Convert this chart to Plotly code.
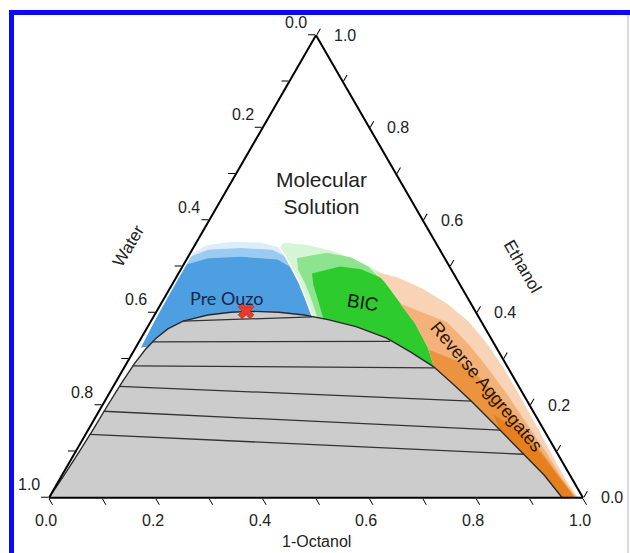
import math
import plotly.graph_objects as go

FONT = "Liberation Sans, Arial, sans-serif"

# ---------------- data: mole fractions (ethanol, 1-octanol; water = balance) ----------------
# Binodal (two-phase boundary), from the water corner round to the octanol side
binodal_ethanol = [0.000, 0.050, 0.100, 0.150, 0.200, 0.250, 0.290, 0.320, 0.345, 0.365, 0.382,
                   0.395, 0.401, 0.403, 0.401, 0.395, 0.385, 0.370, 0.345, 0.315, 0.283, 0.245,
                   0.209, 0.146, 0.094, 0.048, 0.000]
binodal_octanol = [0.000, 0.004, 0.007, 0.009, 0.010, 0.012, 0.015, 0.020, 0.028, 0.040, 0.060,
                   0.100, 0.140, 0.180, 0.230, 0.280, 0.330, 0.390, 0.460, 0.520, 0.579, 0.635,
                   0.686, 0.772, 0.842, 0.904, 0.961]

# Tie lines: water-rich end -> octanol-rich end
tie_ethanol_water_side = [0.382, 0.337, 0.285, 0.241, 0.187, 0.137]
tie_octanol_water_side = [0.060, 0.025, 0.014, 0.011, 0.009, 0.008]
tie_ethanol_oil_side = [0.391, 0.338, 0.281, 0.209, 0.146, 0.094]
tie_octanol_oil_side = [0.297, 0.470, 0.582, 0.686, 0.772, 0.842]

# Pre-Ouzo composition (red cross)
marker_ethanol = [0.404]
marker_octanol = [0.167]

# Pre-Ouzo region (light -> mid -> strong blue)
preouzo_outer_ethanol = [0.3935, 0.4326, 0.4652, 0.4978, 0.5217, 0.5413, 0.552, 0.553, 0.546, 0.528,
                         0.480, 0.420, 0.360, 0.325, 0.360]
preouzo_outer_octanol = [0.296, 0.2637, 0.236, 0.205, 0.182, 0.161, 0.120, 0.064, 0.021, 0.005,
                         0.005, 0.006, 0.008, 0.010, 0.200]
preouzo_mid_ethanol = [0.3935, 0.4326, 0.4652, 0.4978, 0.5217, 0.536, 0.540, 0.536, 0.522,
                       0.480, 0.420, 0.360, 0.325, 0.360]
preouzo_mid_octanol = [0.296, 0.2637, 0.236, 0.205, 0.182, 0.150, 0.090, 0.030, 0.006,
                       0.005, 0.006, 0.008, 0.010, 0.200]
preouzo_core_ethanol = [0.3935, 0.4326, 0.4652, 0.4978, 0.515, 0.521, 0.518, 0.505,
                        0.440, 0.380, 0.325, 0.360]
preouzo_core_octanol = [0.296, 0.2637, 0.236, 0.205, 0.170, 0.100, 0.040, 0.006,
                        0.006, 0.007, 0.010, 0.200]

# BIC region (light -> mid -> strong green)
bic_outer_ethanol = [0.3935, 0.4326, 0.4652, 0.4978, 0.5217, 0.5413, 0.552, 0.5457, 0.533, 0.511,
                     0.492, 0.460, 0.400, 0.330, 0.270, 0.300]
bic_outer_octanol = [0.296, 0.2637, 0.236, 0.205, 0.182, 0.161, 0.165, 0.214, 0.267, 0.324,
                     0.368, 0.420, 0.490, 0.560, 0.610, 0.400]
bic_mid_ethanol = [0.392, 0.430, 0.462, 0.493, 0.518, 0.530, 0.520, 0.500, 0.480, 0.460, 0.400,
                   0.330, 0.270, 0.300]
bic_mid_octanol = [0.306, 0.276, 0.249, 0.220, 0.205, 0.255, 0.305, 0.348, 0.375, 0.420, 0.490,
                   0.560, 0.610, 0.400]
bic_core_ethanol = [0.390, 0.430, 0.460, 0.485, 0.500, 0.494, 0.478, 0.460, 0.400, 0.330, 0.270, 0.300]
bic_core_octanol = [0.318, 0.288, 0.265, 0.250, 0.295, 0.338, 0.378, 0.420, 0.490, 0.560, 0.610, 0.400]

# Boundary between Pre-Ouzo and BIC (white seam)
seam_ethanol = [0.3935, 0.4326, 0.4652, 0.4978, 0.5217, 0.5413, 0.552]
seam_octanol = [0.296, 0.2637, 0.236, 0.205, 0.182, 0.161, 0.158]

# Reverse aggregates region (peach -> orange)
reverse_outer_ethanol = [0.489, 0.465, 0.428, 0.378, 0.326, 0.285, 0.000, 0.000, 0.037, 0.0913,
                         0.1565, 0.2217, 0.2804, 0.3348, 0.3804, 0.4196, 0.4522, 0.4761]
reverse_outer_octanol = [0.366, 0.397, 0.439, 0.496, 0.546, 0.578, 0.930, 0.991, 0.950, 0.897,
                         0.834, 0.770, 0.711, 0.652, 0.596, 0.536, 0.473, 0.415]
reverse_mid_ethanol = [0.420, 0.378, 0.326, 0.285, 0.000, 0.000, 0.040, 0.100, 0.160, 0.220,
                       0.280, 0.330, 0.380]
reverse_mid_octanol = [0.447, 0.496, 0.546, 0.578, 0.930, 0.988, 0.942, 0.880, 0.815, 0.750,
                       0.682, 0.622, 0.555]
reverse_core_ethanol = [0.320, 0.285, 0.000, 0.000, 0.050, 0.100, 0.150, 0.200, 0.250, 0.290]
reverse_core_octanol = [0.551, 0.578, 0.930, 0.986, 0.928, 0.872, 0.813, 0.755, 0.690, 0.632]
reverse_deep_ethanol = [0.180, 0.146, 0.000, 0.000, 0.040, 0.090, 0.140]
reverse_deep_octanol = [0.742, 0.772, 0.930, 0.984, 0.938, 0.880, 0.815]

# Axis ticks
tick_values = [0.0, 0.1, 0.2, 0.3, 0.4, 0.5, 0.6, 0.7, 0.8, 0.9, 1.0]
label_values = [0.0, 0.2, 0.4, 0.6, 0.8, 1.0]
label_texts = ["0.0", "0.2", "0.4", "0.6", "0.8", "1.0"]

# ---------------- layout geometry ----------------
W_FIG, H_FIG = 630, 553
M_L, M_R, M_T, M_B = 49, 47, 35, 55
PW, PH = W_FIG - M_L - M_R, H_FIG - M_T - M_B
TRI_W = min(PW, PH * 2 / math.sqrt(3))
TRI_H = TRI_W * math.sqrt(3) / 2
OFF_X = (PW - TRI_W) / 2 / PW
OFF_Y = (PH - TRI_H) / 2 / PH


def ternary_to_paper(a, c):
    """Position (paper coords) of a ternary composition, matching plotly's ternary subplot."""
    x = OFF_X + (c + a / 2) * TRI_W / PW
    y = OFF_Y + a * TRI_H / PH
    return x, y


# ---------------- figure ----------------
fig = go.Figure()


def region(eth, octa, color):
    fig.add_trace(go.Scatterternary(
        a=eth, c=octa, mode="lines", fill="toself", fillcolor=color,
        line=dict(width=0, color=color), hoverinfo="skip", showlegend=False))


region(preouzo_outer_ethanol, preouzo_outer_octanol, "#dcecfa")
region(preouzo_mid_ethanol, preouzo_mid_octanol, "#9ccbf1")
region(preouzo_core_ethanol, preouzo_core_octanol, "#4d9fe1")

region(bic_outer_ethanol, bic_outer_octanol, "#d6f4d6")
region(bic_mid_ethanol, bic_mid_octanol, "#8ee48e")
region(bic_core_ethanol, bic_core_octanol, "#2ecb2e")

fig.add_trace(go.Scatterternary(
    a=seam_ethanol, c=seam_octanol, mode="lines",
    line=dict(width=1.6, color="white"), hoverinfo="skip", showlegend=False))

region(reverse_outer_ethanol, reverse_outer_octanol, "#f9d3b5")
region(reverse_mid_ethanol, reverse_mid_octanol, "#f4b27a")
region(reverse_core_ethanol, reverse_core_octanol, "#ec933f")
region(reverse_deep_ethanol, reverse_deep_octanol, "#e5801f")

# two-phase region
fig.add_trace(go.Scatterternary(
    a=binodal_ethanol, c=binodal_octanol, mode="lines", fill="toself",
    fillcolor="#cccccc", line=dict(width=0, color="#cccccc"),
    hoverinfo="skip", showlegend=False))

for i in range(len(tie_ethanol_water_side)):
    fig.add_trace(go.Scatterternary(
        a=[tie_ethanol_water_side[i], tie_ethanol_oil_side[i]],
        c=[tie_octanol_water_side[i], tie_octanol_oil_side[i]],
        mode="lines", line=dict(width=1.3, color="#333333"),
        hoverinfo="skip", showlegend=False))

fig.add_trace(go.Scatterternary(
    a=binodal_ethanol, c=binodal_octanol, mode="lines",
    line=dict(width=1.4, color="#2a2a2a"), hoverinfo="skip", showlegend=False))

fig.add_trace(go.Scatterternary(
    a=marker_ethanol, c=marker_octanol, mode="markers",
    marker=dict(symbol="x", size=14, color="#e63b2a", line=dict(width=0.6, color="#b5261a")),
    hoverinfo="skip", showlegend=False))

axis_common = dict(
    tickmode="array", tickvals=tick_values,
    ticks="outside", ticklen=7, tickwidth=1.4, tickcolor="black",
    linecolor="black", linewidth=2, showgrid=False, showticklabels=False,
    title=dict(text=""),
)

fig.update_layout(
    width=W_FIG, height=H_FIG,
    margin=dict(l=M_L, r=M_R, t=M_T, b=M_B),
    paper_bgcolor="white",
    ternary=dict(
        sum=1, bgcolor="white",
        aaxis=axis_common, baxis=axis_common, caxis=axis_common,
    ),
    showlegend=False,
)

ann = dict(xref="paper", yref="paper", showarrow=False, xanchor="center", yanchor="middle")
tick_font = dict(family=FONT, size=16, color="#222222")

# tick labels, read clockwise along each edge
for v, t in zip(label_values, label_texts):
    # Water along the left edge (0 at the top, 1 at bottom-left)
    x, y = ternary_to_paper(1 - v, 0.0)
    fig.add_annotation(text=t, x=x, y=y, xshift=-20, yshift=13, font=tick_font, **ann)
    # Ethanol along the right edge (0 at bottom-right, 1 at the top)
    x, y = ternary_to_paper(v, 1 - v)
    fig.add_annotation(text=t, x=x, y=y, xshift=29, yshift=0, font=tick_font, **ann)
    # 1-Octanol along the bottom edge (0 at left, 1 at right)
    x, y = ternary_to_paper(0.0, v)
    fig.add_annotation(text=t, x=x, y=y, xshift=-3, yshift=-23, font=tick_font, **ann)

fig.add_annotation(text="Molecular<br>Solution", x=0.511, y=0.659,
                   font=dict(family=FONT, size=21, color="#222222"), **ann)
fig.add_annotation(text="Pre Ouzo", x=0.333, y=0.432,
                   font=dict(family="Lato, Open Sans, sans-serif", size=18, color="#17264c"), **ann)
fig.add_annotation(text="BIC", x=0.588, y=0.423, textangle=9,
                   font=dict(family=FONT, size=19, color="#151515"), **ann)
fig.add_annotation(text="Reverse Aggregates", x=0.820, y=0.240, textangle=50,
                   font=dict(family=FONT, size=18, color="#2a1608"), **ann)
fig.add_annotation(text="Water", x=0.148, y=0.544, textangle=-59,
                   font=dict(family=FONT, size=17, color="#222222"), **ann)
fig.add_annotation(text="Ethanol", x=0.886, y=0.499, textangle=60,
                   font=dict(family=FONT, size=17, color="#222222"), **ann)
fig.add_annotation(text="1-Octanol", x=0.5, y=-0.094,
                   font=dict(family=FONT, size=16, color="#222222"), **ann)

# blue frame of the original figure panel
fig.add_shape(type="rect", xref="paper", yref="paper", x0=-0.0749, x1=1.09, y0=1.0432, y1=1.054,
              fillcolor="#0a0af5", line=dict(width=0), layer="above")
fig.add_shape(type="rect", xref="paper", yref="paper", x0=-0.0749, x1=-0.0655, y0=-0.14, y1=1.054,
              fillcolor="#0a0af5", line=dict(width=0), layer="above")
fig.add_shape(type="rect", xref="paper", yref="paper", x0=1.0824, x1=1.0861, y0=-0.14, y1=1.0432,
              fillcolor="#d4d4f4", line=dict(width=0), layer="above")

fig.write_html("out.html", config={"displayModeBar": False},
               post_script="document.body.style.margin='0px';")
